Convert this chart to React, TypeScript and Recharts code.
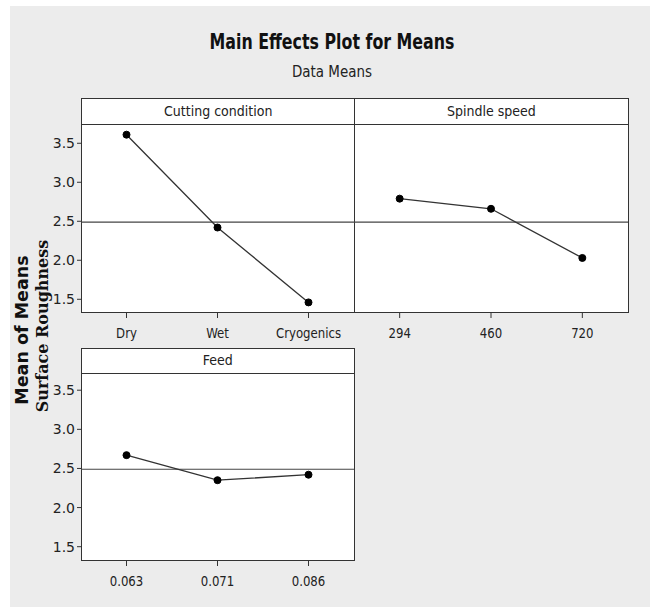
import { LineChart, Line, XAxis, YAxis, ReferenceLine } from "recharts";

const cuttingCategories = ["Dry", "Wet", "Cryogenics"];
const cuttingMeans = [3.61, 2.42, 1.46];
const spindleCategories = ["294", "460", "720"];
const spindleMeans = [2.79, 2.66, 2.03];
const feedCategories = ["0.063", "0.071", "0.086"];
const feedMeans = [2.67, 2.35, 2.42];
const yTicks = [1.5, 2.0, 2.5, 3.0, 3.5];
const grandMean = 2.49;

const FONT = "'DejaVu Sans', sans-serif";
const INK = "#333";

// narrow tick label, the source font is a condensed one
function LevelTick(props: any) {
  const { x, y, payload } = props;
  return (
    <g transform={`translate(${x},${y})`}>
      <text
        x={0}
        y={0}
        dy="0.71em"
        textAnchor="middle"
        transform="scale(0.84,1)"
        fill="#222"
        fontSize={14}
        fontFamily={FONT}
      >
        {payload.value}
      </text>
    </g>
  );
}

interface PanelProps {
  title: string;
  categories: string[];
  means: number[];
  x: number;
  width: number;
  frameTop: number;
  plotTop: number;
  plotBottom: number;
  domain: [number, number];
  showY: boolean;
}

function Panel({ title, categories, means, x, width, frameTop, plotTop, plotBottom, domain, showY }: PanelProps) {
  const data = categories.map((c, i) => ({ level: c, mean: means[i] }));
  const yw = showY ? 50 : 0;
  const plotH = plotBottom - plotTop;
  const pad = width / 6;
  return (
    <>
      <div
        style={{
          position: "absolute",
          left: x,
          top: frameTop,
          width: width + 1,
          height: plotBottom - frameTop + 1,
          border: `1px solid ${INK}`,
          boxSizing: "border-box",
          background: "#fff",
        }}
      >
        <div
          style={{
            height: plotTop - frameTop - 1,
            borderBottom: `1px solid ${INK}`,
            textAlign: "center",
            fontFamily: FONT,
            fontSize: 14,
            color: "#222",
            lineHeight: `${plotTop - frameTop - 2}px`,
          }}
        >
          <span style={{ display: "inline-block", transform: "scaleX(0.9)" }}>{title}</span>
        </div>
      </div>
      <div style={{ position: "absolute", left: x - yw, top: plotTop }}>
        <LineChart width={width + yw} height={plotH + 40} data={data} margin={{ top: 0, right: 0, bottom: 0, left: 0 }}>
          <XAxis
            dataKey="level"
            height={40}
            padding={{ left: pad, right: pad }}
            axisLine={false}
            tickSize={6}
            tickMargin={10}
            tickLine={{ stroke: INK }}
            tick={<LevelTick />}
          />
          <YAxis
            type="number"
            domain={domain}
            allowDataOverflow
            ticks={yTicks}
            hide={!showY}
            width={yw}
            axisLine={false}
            tickSize={4}
            tickMargin={2}
            tickLine={{ stroke: INK }}
            tick={{ fill: "#222", fontSize: 14, fontFamily: FONT }}
            tickFormatter={(v: number) => v.toFixed(1)}
          />
          <ReferenceLine y={grandMean} stroke="#444" strokeWidth={1.2} />
          <Line
            type="linear"
            dataKey="mean"
            stroke={INK}
            strokeWidth={1.3}
            dot={{ r: 3.5, fill: "#000", stroke: "#000", strokeWidth: 1 }}
            isAnimationActive={false}
          />
        </LineChart>
      </div>
    </>
  );
}

export default function App() {
  const topDomain: [number, number] = [1.337, 3.747];
  const feedDomain: [number, number] = [1.33, 3.72];
  return (
    <div style={{ position: "absolute", left: 0, top: 0, width: 650, height: 607, background: "#fff", overflow: "hidden" }}>
      <div style={{ position: "absolute", left: 10, top: 6, right: 0, bottom: 0, background: "#ececec" }} />
      <div
        style={{
          position: "absolute",
          left: 14,
          width: 636,
          top: 29,
          textAlign: "center",
          fontFamily: FONT,
          fontWeight: "bold",
          fontSize: 22,
          color: "#111",
          transform: "scaleX(0.72)",
        }}
      >
        Main Effects Plot for Means
      </div>
      <div
        style={{
          position: "absolute",
          left: 14,
          width: 636,
          top: 62,
          textAlign: "center",
          fontFamily: FONT,
          fontSize: 16,
          color: "#222",
          transform: "scaleX(0.84)",
        }}
      >
        Data Means
      </div>
      <div
        style={{
          position: "absolute",
          left: 22,
          top: 330,
          transform: "translate(-50%, -50%) rotate(-90deg)",
          whiteSpace: "nowrap",
          fontFamily: "'DejaVu Sans', sans-serif",
          fontWeight: "bold",
          fontSize: 17.5,
          color: "#111",
        }}
      >
        Mean of Means
      </div>
      <div
        style={{
          position: "absolute",
          left: 42,
          top: 326,
          transform: "translate(-50%, -50%) rotate(-90deg)",
          whiteSpace: "nowrap",
          fontFamily: "'DejaVu Serif', serif",
          fontWeight: "bold",
          fontSize: 16,
          color: "#111",
        }}
      >
        Surface Roughness
      </div>
      <Panel
        title="Cutting condition"
        categories={cuttingCategories}
        means={cuttingMeans}
        x={81}
        width={273}
        frameTop={98}
        plotTop={124}
        plotBottom={312}
        domain={topDomain}
        showY
      />
      <Panel
        title="Spindle speed"
        categories={spindleCategories}
        means={spindleMeans}
        x={354}
        width={274}
        frameTop={98}
        plotTop={124}
        plotBottom={312}
        domain={topDomain}
        showY={false}
      />
      <Panel
        title="Feed"
        categories={feedCategories}
        means={feedMeans}
        x={81}
        width={273}
        frameTop={348}
        plotTop={373}
        plotBottom={560}
        domain={feedDomain}
        showY
      />
    </div>
  );
}
